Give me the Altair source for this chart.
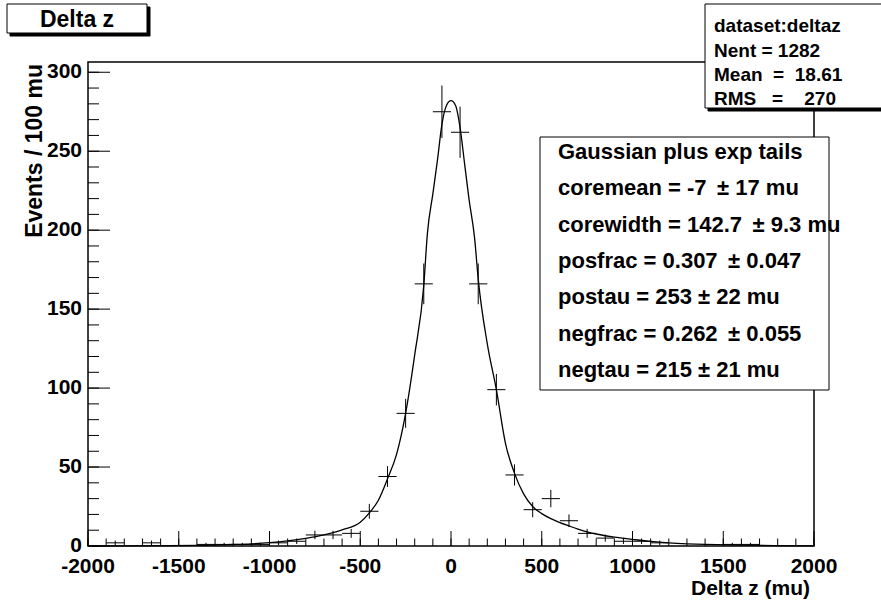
import altair as alt
import pandas as pd

# ---------------- data ----------------
bin_centers = [-1850, -1650, -1350, -1250, -1150, -1050, -950, -850, -750, -650,
               -550, -450, -350, -250, -150, -50, 50, 150, 250, 350,
               450, 550, 650, 750, 850, 950, 1050, 1150, 1550, 1650]
counts = [2, 2, 1, 1, 1, 1, 2, 3, 7, 7,
          8, 22, 44, 84, 166, 275, 262, 166, 99, 45,
          23, 30, 16, 8, 5, 3, 3, 2, 1, 1]
bin_width = 100

curve_x = [-2000, -1800, -1600, -1400, -1300, -1200, -1100, -1000, -900, -800,
           -700, -600, -500, -450, -400, -350, -300, -250, -200, -150,
           -130, -100, -75, -50, -25, 0, 25, 50, 75, 100,
           130, 150, 200, 250, 300, 350, 400, 450, 500, 550,
           600, 650, 700, 750, 800, 850, 900, 950, 1000, 1100,
           1200, 1300, 1400, 1600, 1800, 2000]
curve_y = [0.04, 0.08, 0.2, 0.4, 0.6, 0.95, 1.4, 2.1, 3.2, 4.8,
           7.0, 10.2, 15.0, 21.0, 29.0, 42.5, 58.0, 84.0, 121.0, 165.0,
           198.0, 223.0, 244.0, 267.0, 279.0, 282.0, 279.0, 265.0, 242.0, 219.0,
           195.0, 169.0, 128.0, 99.0, 65.0, 46.0, 33.0, 25.0, 20.5, 17.3,
           14.8, 12.7, 10.7, 9.0, 7.6, 6.5, 5.6, 4.9, 4.2, 2.9,
           2.0, 1.4, 1.0, 0.5, 0.25, 0.12]

x_major = [-2000, -1500, -1000, -500, 0, 500, 1000, 1500, 2000]
x_minor = list(range(-2000, 2001, 100))
y_major = [0, 50, 100, 150, 200, 250, 300]
y_minor = list(range(0, 301, 10))
x_domain = [-2000, 2000]
y_domain = [0, 306.5]

x_title = "Delta z (mu)"
y_title = "Events / 100 mu"
plot_title = "Delta z"
stats_lines = ["dataset:deltaz", "Nent = 1282",
               "Mean\u00a0\u00a0=\u00a0\u00a018.61",
               "RMS\u00a0\u00a0\u00a0=\u00a0\u00a0\u00a0\u00a0270"]
fit_lines = ["Gaussian plus exp tails",
             "coremean = -7 \u2009\u00b1 17 mu",
             "corewidth = 142.7 \u2009\u00b1 9.3 mu",
             "posfrac = 0.307 \u2009\u00b1 0.047",
             "postau = 253 \u00b1 22 mu",
             "negfrac = 0.262 \u2009\u00b1 0.055",
             "negtau = 215 \u00b1 21 mu"]

# ---------------- layout ----------------
W, H = 726, 484
FONT = "Liberation Sans"
one = pd.DataFrame({"k": [0]})

xs = alt.Scale(domain=x_domain, nice=False, zero=False)
ys = alt.Scale(domain=y_domain, nice=False, zero=False)

pts = pd.DataFrame({"c": bin_centers, "n": counts})
half = bin_width / 2
base = alt.Chart(pts).transform_calculate(
    lo=f"datum.c - {half}", hi=f"datum.c + {half}",
    elo="datum.n - sqrt(datum.n)", ehi="datum.n + sqrt(datum.n)")

hbars = base.mark_rule(color="black", strokeWidth=1).encode(
    x=alt.X("lo:Q", scale=xs, axis=None), x2="hi:Q",
    y=alt.Y("n:Q", scale=ys, axis=None))
vbars = base.mark_rule(color="black", strokeWidth=1).encode(
    x=alt.X("c:Q", scale=xs, axis=None),
    y=alt.Y("elo:Q", scale=ys, axis=None), y2="ehi:Q")

curve = alt.Chart(pd.DataFrame({"cx": curve_x, "cy": curve_y})).mark_line(
    color="black", strokeWidth=1.3, interpolate="monotone").encode(
    x=alt.X("cx:Q", scale=xs, axis=None), y=alt.Y("cy:Q", scale=ys, axis=None))


def xticks(vals, length):
    return alt.Chart(pd.DataFrame({"t": vals})).mark_rule(color="black", strokeWidth=1).encode(
        x=alt.X("t:Q", scale=xs, axis=None), y=alt.value(H), y2=alt.value(H - length))


def yticks(vals, length):
    return alt.Chart(pd.DataFrame({"t": vals})).mark_rule(color="black", strokeWidth=1).encode(
        y=alt.Y("t:Q", scale=ys, axis=None), x=alt.value(0), x2=alt.value(length))


x_labels = alt.Chart(pd.DataFrame({"t": x_major})).transform_calculate(
    lbl="'' + datum.t").mark_text(font=FONT, fontWeight="bold", fontSize=21, color="black",
                                  align="center", baseline="alphabetic").encode(
    x=alt.X("t:Q", scale=xs, axis=None), y=alt.value(H + 27), text="lbl:N")

y_labels = alt.Chart(pd.DataFrame({"t": y_major})).transform_calculate(
    lbl="'' + datum.t").mark_text(font=FONT, fontWeight="bold", fontSize=21, color="black",
                                  align="right", baseline="middle", dy=0).encode(
    y=alt.Y("t:Q", scale=ys, axis=None), x=alt.value(-6), text="lbl:N")


def box(x1, x2, y1, y2, fill="white", stroke="black"):
    return alt.Chart(one).mark_rect(fill=fill, stroke=stroke, strokeWidth=1).encode(
        x=alt.value(x1), x2=alt.value(x2), y=alt.value(y1), y2=alt.value(y2))


def label(x, y, txt, size, align="left", baseline="alphabetic", lh=None, angle=None):
    kw = dict(font=FONT, fontWeight="bold", fontSize=size, color="black",
              align=align, baseline=baseline)
    if lh is not None:
        kw["lineHeight"] = lh
    if angle is not None:
        kw["angle"] = angle
    return alt.Chart(one).mark_text(**kw).encode(
        x=alt.value(x), y=alt.value(y), text=alt.value(txt))


layers = [
    curve, hbars, vbars,
    xticks(x_minor, 7.5), xticks(x_major, 15),
    yticks(y_minor, 11), yticks(y_major, 22),
    x_labels, y_labels,
    label(722, H + 49, x_title, 21, align="right"),
    label(-46, 2, y_title, 23, align="right", angle=270),
    # title box
    box(-78, 62, -55, -26, fill="black", stroke="black"),
    box(-81, 59, -58, -29),
    label(-11, -42, plot_title, 23, align="center", baseline="middle"),
    # stats box
    box(620, 800, -55, 49, fill="black", stroke="black"),
    box(617, 800, -58, 46),
    label(626, -29.7, stats_lines, 19, lh=24.3),
    # fit box
    box(452, 741, 75, 328),
    label(470, 97, fit_lines, 22, lh=36.3),
]

chart = alt.layer(*layers).properties(
    width=W, height=H,
    padding={"left": 88, "top": 62, "right": 67, "bottom": 54},
    autosize=alt.AutoSizeParams(type="none"),
    background="white",
).configure_view(stroke="black", strokeWidth=1.5)

chart.save("out.html", embed_options={"renderer": "svg", "actions": False})
